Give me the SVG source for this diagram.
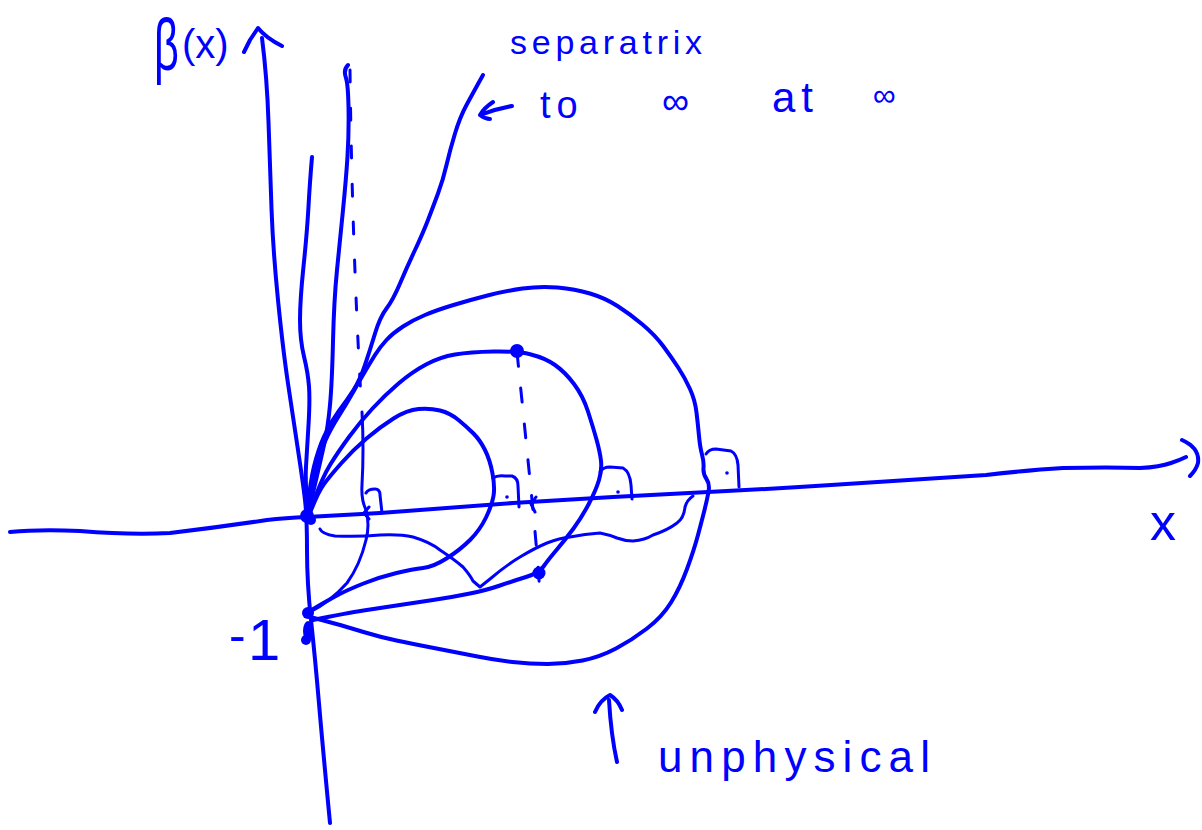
<svg xmlns="http://www.w3.org/2000/svg" width="1202" height="830" viewBox="0 0 1202 830">
<style>
.s{fill:none;stroke:#0000ff;stroke-width:4;stroke-linecap:round;stroke-linejoin:round}
.t{fill:none;stroke:#0000ff;stroke-width:3;stroke-linecap:round;stroke-linejoin:round}
.d{fill:none;stroke:#0000ff;stroke-width:3;stroke-linecap:round;stroke-dasharray:12 26}
.dot{fill:#0000ff}
.lbl{fill:#0000ff;font-family:"Liberation Sans",Arial,sans-serif}
</style>
<rect width="1202" height="830" fill="#ffffff"/>

<g id="axes">
  <path class="s" d="M262,38 Q267,77 268.5,122 Q270,167 271.5,208.5 Q273,250 278,300 Q283,350 288,383.5 Q293,417 298,450 Q303,483 305,500 Q307,517 307,550 Q307,583 311,620 Q315,657 319,703.5 Q323,750 330,823"/>
  <path class="s" d="M244,52 L250,40 L258,28 Q266,38 282,46"/>
  <path class="s" d="M10,532 Q40,529 80,531 Q130,535 170,533 Q220,527 267,520 Q285,518 307,517 L380,513 Q450,508 513,503 Q560,500 613,497 L708,492 Q770,489 831,485 Q910,480 986,475 Q1030,470 1063,468 Q1110,467 1140,468 Q1160,467 1171,463 Q1180,460 1186,457"/>
  <path class="s" d="M1182,440 Q1200,448 1198,463 Q1196,470 1190,476"/>
</g>

<g id="curves">
  <path id="curve-b" class="s" d="M312,157 Q310,180 308.5,206.5 Q307,233 303.5,266.5 Q300,300 300,320 Q300,340 304,356.5 Q308,373 309,386.5 Q310,400 308.5,425 Q307,450 306,466.5 Q305,483 308,512"/>
  <path id="curve-c" class="s" d="M348,65 Q343,70 346,78 Q348,84 348.5,106.5 Q349,133 347.5,156.5 Q346,180 343,210 Q340,240 337,270 Q334,300 333,341.5 Q332,383 330,405 Q328,427 324,445 Q320,463 316,480 Q312,497 308,513"/>
  <path id="separatrix" class="s" d="M483,75 Q473,93 466.5,105 Q460,117 455,133.5 Q450,150 446.5,165 Q443,180 438,193.5 Q433,207 428,220 Q423,233 415,250 Q407,267 400,283.5 Q393,300 386.5,308.5 Q380,317 375,333.5 Q370,350 365,365 Q360,380 353.5,390 Q347,400 338.5,411.5 Q330,423 324,436.5 Q318,450 314,466.5 Q310,483 307,513"/>
  <path id="dashed-left" class="d" d="M350,70 Q352,240 361,398"/>
  <path id="thin-left" class="t" d="M362,412 Q364,450 362,485 Q361,500 366,510 Q370,525 366,540 Q360,565 347,583 Q330,602 310,612"/>
  <path class="t" d="M369,507 L364,513 L369,519"/>
  <path id="outer-loop" class="s" d="M308,512 Q312,483 316,468 Q320,453 325,441.5 Q330,430 338.5,416.5 Q347,403 353.5,391.5 Q360,380 365,371.5 Q370,363 375,355 Q380,347 386.5,340 Q393,333 403,326.5 Q413,320 425,315 Q437,310 453.5,305 Q470,300 487.5,295.5 Q505,291 522.5,288.5 Q540,286 557.5,287.5 Q575,289 590,293.5 Q605,298 617.5,306 Q630,314 642.5,324.5 Q655,335 663.5,346.5 Q672,358 678.5,368 Q685,378 690,389 Q695,400 696.5,412.5 Q698,425 699,436 Q700,447 702,454.5 Q704,462 703.5,468 Q703,474 706.5,479 Q710,484 708.5,492 Q707,500 704.5,510 Q702,520 698,535 Q694,550 687,569 Q680,588 671,602.5 Q662,617 647,628.5 Q632,640 616,648.5 Q600,657 582.5,660.5 Q565,664 547.5,664 Q530,664 512.5,662 Q495,660 477.5,656.5 Q460,653 436.5,648.5 Q413,644 396.5,640.5 Q380,637 363.5,632 Q347,627 334.5,623.5 Q322,620 310,617"/>
  <path id="middle-loop" class="s" d="M313,503 Q322,478 330,465 Q338,452 349,437 Q360,422 372.5,408.5 Q385,395 398.5,383.5 Q412,372 426,364.5 Q440,357 455,354.5 Q470,352 493.5,351.5 Q517,351 531,354.5 Q545,358 555,365 Q565,372 574,384 Q583,396 588,411.5 Q593,427 596.5,439.5 Q600,452 601,461 Q602,470 599,480 Q596,490 589,503.5 Q582,517 573.5,528.5 Q565,540 556.5,550 Q548,560 543.5,566.5 Q539,573 526,577 Q513,581 500,585.5 Q487,590 470,593.5 Q453,597 433,600 Q413,603 396.5,605.5 Q380,608 363.5,610.5 Q347,613 313,620"/>
  <path id="inner-loop" class="s" d="M310,513 Q318,492 324,484 Q330,476 341.5,463 Q353,450 366.5,438.5 Q380,427 393.5,418.5 Q407,410 418.5,409 Q430,408 440,410.5 Q450,413 458.5,420 Q467,427 473.5,433.5 Q480,440 485,450 Q490,460 492.5,473.5 Q495,487 493.5,496 Q492,505 486,517.5 Q480,530 470,540 Q460,550 446.5,558.5 Q433,567 423,568 Q413,569 396.5,573 Q380,577 363.5,583.5 Q347,590 335,596.5 Q323,603 310,611"/>
  <path id="lower-wave" class="t" d="M320,529 Q322,534 335,536 Q360,537 380,535 Q400,534 413,537 Q430,542 440,550 Q455,560 463,567 Q470,575 473,581 L480,587 L490,579 Q505,566 520,557 Q535,548 547,543 Q560,538 570,537 Q585,534 600,533 Q610,535 617,538 Q625,541 633,541 Q645,540 653,535 Q668,530 677,523 Q684,518 685,507 Q687,500 693,496"/>
  <path id="dashed-mid" class="d" d="M517,352 Q526,440 532,500 Q537,550 540,594" style="stroke-dasharray:14 22"/>
  <path class="t" d="M536,497 L531,504 L535,512"/>
</g>

<g id="markers">
  <path class="t" d="M366,493 Q368,489 375,489 Q380,489 380,495 L382,513"/>
  <path class="t" d="M493,478 Q497,475 505,476 L512,476 Q518,478 518,486 L519,507"/>
  <circle class="dot" cx="507" cy="497" r="1.8"/>
  <path class="t" d="M600,472 Q603,467 610,467 L623,468 Q630,472 631,485 L632,499"/>
  <circle class="dot" cx="618" cy="492" r="1.8"/>
  <path class="t" d="M706,454 Q709,449 716,449 L731,451 Q737,454 738,465 L739,487"/>
  <circle class="dot" cx="727" cy="473" r="1.8"/>
</g>

<g id="points">
  <circle class="dot" cx="307" cy="516" r="7"/>
  <circle class="dot" cx="311" cy="520" r="5"/>
  <circle class="dot" cx="517" cy="351" r="7"/>
  <circle class="dot" cx="539" cy="573" r="6.5"/>
  <circle class="dot" cx="308" cy="613" r="6"/>
  <ellipse class="dot" cx="308" cy="631" rx="5" ry="10"/>
  <circle class="dot" cx="306" cy="640" r="5"/>
</g>

<g id="pointers">
  <path class="s" d="M512,106 Q495,109 480,115 M493,102 Q484,108 480,115 Q485,119 490,119"/>
  <path class="s" d="M617,762 Q611,735 609,700 M595,712 Q600,700 610,695 Q618,700 622,710"/>
</g>

<g id="labels">
  <text class="lbl" transform="translate(154,70) scale(0.6,1)" font-size="72">β</text>
  <text class="lbl" x="182" y="58" font-size="40">(x)</text>
  <text class="lbl" x="510" y="54" font-size="34" textLength="192" lengthAdjust="spacing">separatrix</text>
  <text class="lbl" x="540" y="118" font-size="38" letter-spacing="6">to</text>
  <text class="lbl" x="662" y="114" font-size="38">∞</text>
  <text class="lbl" x="772" y="112" font-size="42" letter-spacing="6">at</text>
  <text class="lbl" x="873" y="106" font-size="32">∞</text>
  <text class="lbl" x="1150" y="540" font-size="52">x</text>
  <text class="lbl" x="229" y="652" font-size="50">-</text>
  <text class="lbl" x="248" y="660" font-size="58">1</text>
  <text class="lbl" x="658" y="772" font-size="44" textLength="272" lengthAdjust="spacing">unphysical</text>
</g>
</svg>
